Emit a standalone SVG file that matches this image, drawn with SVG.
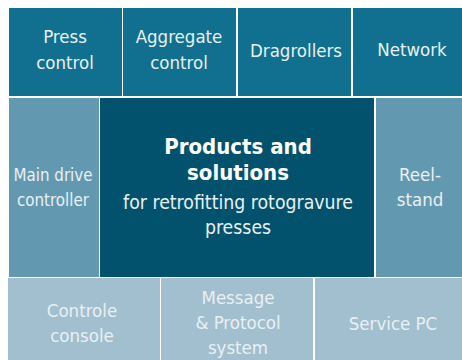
<svg xmlns="http://www.w3.org/2000/svg" width="462" height="360" viewBox="0 0 462 360">
<style>
.t{font-family:"DejaVu Sans Condensed","DejaVu Sans","Liberation Sans",sans-serif;font-stretch:condensed;font-size:18.5px;fill:#e9f0f3;text-anchor:middle}
.b{font-weight:bold;font-size:22px;fill:#ffffff}
.s{font-size:16.8px}
.m{font-size:19.3px}
.top{fill:#11708f}
.side{fill:#6399b0}
.ctr{fill:#03526d}
.bot{fill:#a2bfd0}
</style>
<rect width="462" height="360" fill="#ffffff"/>
<g id="press-control"><rect class="top" x="9" y="8" width="113" height="88"/><text class="t" x="65" y="43">Press</text><text class="t" x="65" y="69">control</text></g>
<g id="aggregate-control"><rect class="top" x="123" y="8" width="113" height="88"/><text class="t" x="179" y="43">Aggregate</text><text class="t" x="179" y="69">control</text></g>
<g id="dragrollers"><rect class="top" x="238" y="8" width="113" height="88"/><text class="t" x="296" y="57">Dragrollers</text></g>
<g id="network"><rect class="top" x="353" y="8" width="109" height="88"/><text class="t" x="412" y="56">Network</text></g>
<g id="main-drive"><rect class="side" x="9" y="98" width="90" height="179"/><text class="t s" x="53" y="181">Main drive</text><text class="t s" x="53" y="206">controller</text></g>
<g id="products"><rect class="ctr" x="100" y="98" width="274" height="179"/><text class="t b" x="238" y="154">Products and</text><text class="t b" x="238" y="180">solutions</text><text class="t m" x="238" y="209">for retrofitting rotogravure</text><text class="t m" x="238" y="234">presses</text></g>
<g id="reel-stand"><rect class="side" x="376" y="98" width="86" height="179"/><text class="t" x="420" y="181">Reel-</text><text class="t" x="420" y="206">stand</text></g>
<g id="controle-console"><rect class="bot" x="8" y="278" width="152" height="82"/><text class="t" x="82" y="317">Controle</text><text class="t" x="82" y="342">console</text></g>
<g id="message-protocol"><rect class="bot" x="161" y="278" width="152" height="82"/><text class="t" x="238" y="304">Message</text><text class="t" x="238" y="329">&amp; Protocol</text><text class="t" x="238" y="354">system</text></g>
<g id="service-pc"><rect class="bot" x="315" y="278" width="147" height="82"/><text class="t" x="393" y="330">Service PC</text></g>
<g id="connectors"></g>
</svg>
